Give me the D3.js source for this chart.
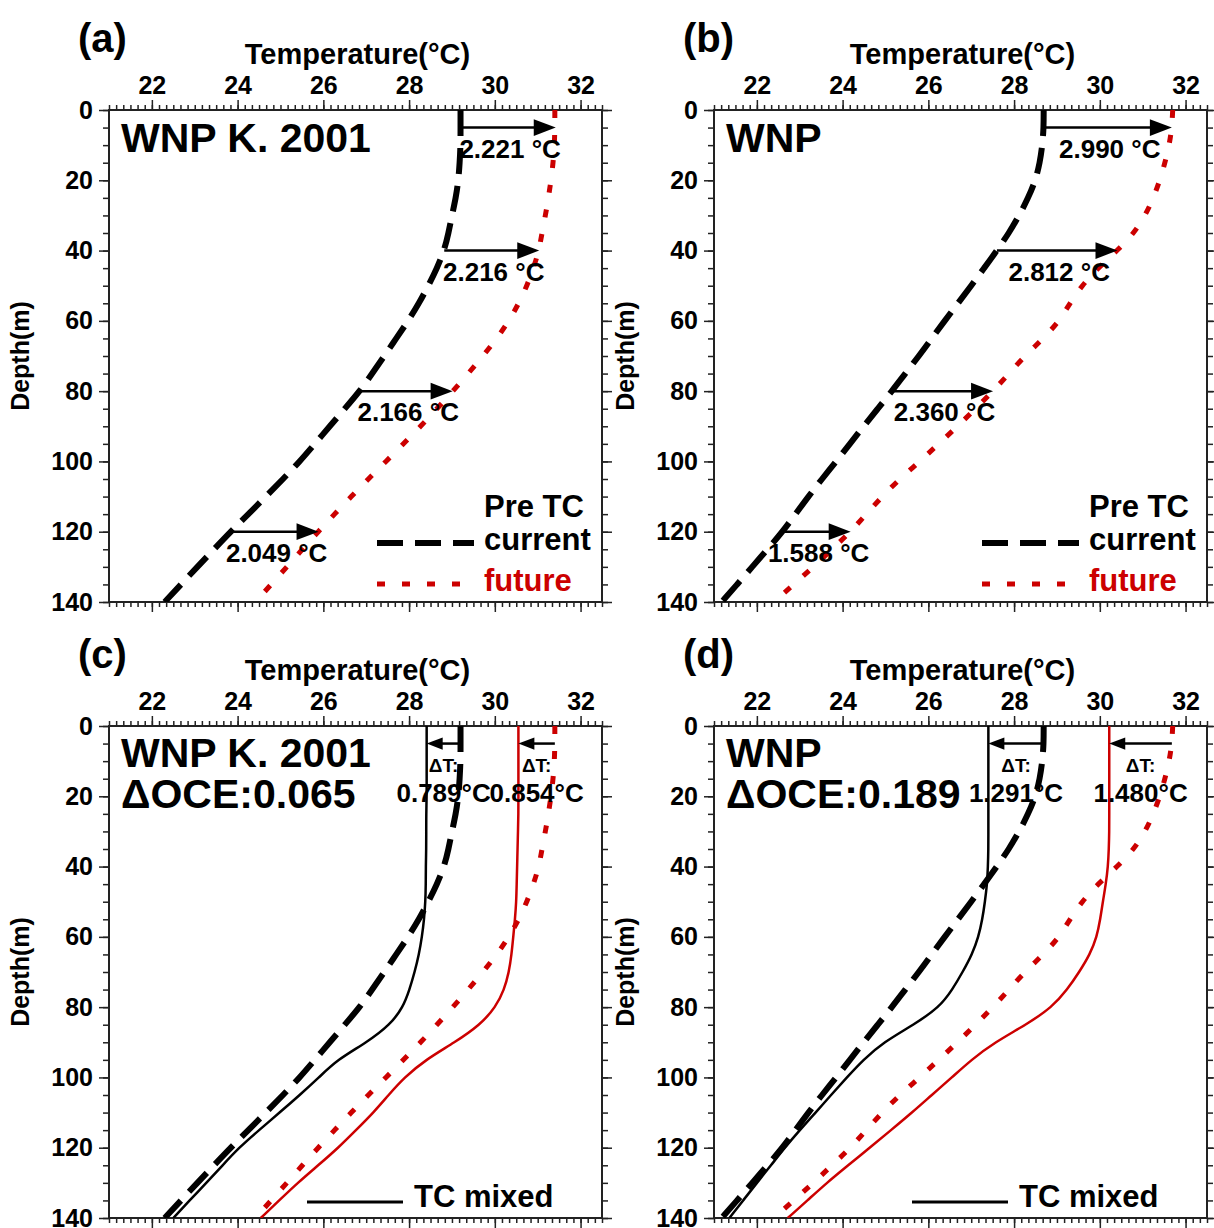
<!DOCTYPE html>
<html><head><meta charset="utf-8">
<script src="https://cdn.jsdelivr.net/npm/d3@7/dist/d3.min.js"></script>
<style>body{margin:0;background:#fff}text{font-family:"Liberation Sans",Arial,Helvetica,sans-serif;font-weight:bold}</style>
</head><body>
<svg id="chart" width="1214" height="1228"></svg>
<script>
// ---- data (depth in m, temperature in °C) ----
const depths = [0,5,10,15,20,25,30,35,40,45,50,55,60,65,70,75,80,85,90,95,100,105,110,115,120,125,130,135,140];

const wnpK_current = [29.20,29.20,29.20,29.18,29.15,29.09,29.00,28.92,28.82,28.65,28.45,28.23,27.98,27.70,27.42,27.14,26.85,26.50,26.15,25.80,25.45,25.06,24.66,24.25,23.84,23.45,23.06,22.68,22.30];
const wnpK_future  = [31.40,31.40,31.39,31.36,31.31,31.25,31.18,31.10,31.03,30.90,30.75,30.56,30.33,30.05,29.72,29.38,29.02,28.65,28.27,27.87,27.46,27.05,26.65,26.26,25.88,25.51,25.15,24.78,24.42];
const wnpK_mixedCurrent = [28.41,28.41,28.41,28.41,28.41,28.40,28.40,28.40,28.39,28.39,28.38,28.35,28.30,28.23,28.13,28.01,27.86,27.56,27.02,26.32,25.90,25.45,24.98,24.50,24.03,23.65,23.27,22.88,22.50];
const wnpK_mixedFuture  = [30.55,30.55,30.55,30.55,30.55,30.55,30.54,30.53,30.52,30.51,30.50,30.47,30.43,30.39,30.33,30.22,30.02,29.66,29.07,28.38,27.89,27.52,27.17,26.76,26.35,25.88,25.40,24.97,24.54];

const wnp_current = [28.69,28.69,28.66,28.60,28.50,28.33,28.12,27.88,27.60,27.30,27.00,26.69,26.38,26.08,25.78,25.46,25.15,24.82,24.49,24.17,23.85,23.52,23.20,22.90,22.60,22.25,21.89,21.54,21.18];
const wnp_future  = [31.70,31.68,31.62,31.52,31.40,31.25,31.06,30.80,30.41,29.95,29.58,29.30,29.06,28.68,28.25,27.88,27.51,27.10,26.68,26.24,25.80,25.33,24.92,24.55,24.19,23.75,23.32,22.86,22.40];
const wnp_mixedCurrent = [27.40,27.40,27.40,27.40,27.40,27.40,27.40,27.40,27.39,27.37,27.32,27.26,27.17,27.02,26.80,26.56,26.26,25.66,24.95,24.48,24.10,23.73,23.37,23.00,22.65,22.33,22.00,21.68,21.36];
const wnp_mixedFuture  = [30.22,30.22,30.22,30.22,30.22,30.22,30.22,30.21,30.19,30.14,30.07,30.01,29.93,29.77,29.52,29.24,28.89,28.28,27.55,27.00,26.55,26.08,25.62,25.13,24.63,24.13,23.63,23.18,22.72];

const arrowDepths = [5,40,80,120];
const wnpK_warming = [2.221,2.216,2.166,2.049];
const wnp_warming  = [2.990,2.812,2.360,1.588];

const coolingDepth = 5;
const wnpK_cooling = [0.789,0.854];   // current, future
const wnp_cooling  = [1.291,1.480];

const wnpK_dOCE = "0.065";
const wnp_dOCE  = "0.189";

const tempTicks  = [22,24,26,28,30,32];
const depthTicks = [0,20,40,60,80,100,120,140];
const tempDomain = [21,32.5];
const depthDomain = [0,140];

// ---- layout ----
const svg = d3.select("#chart");
const W = 493, H = 492;
const RED = "#cc0000";
const panels = [
  {tag:"(a)", left:109, top:110, kind:"pre",   name:"WNP K. 2001", cur:wnpK_current, fut:wnpK_future, warm:wnpK_warming},
  {tag:"(b)", left:714, top:110, kind:"pre",   name:"WNP",         cur:wnp_current,  fut:wnp_future,  warm:wnp_warming},
  {tag:"(c)", left:109, top:726, kind:"mixed", name:"WNP K. 2001", cur:wnpK_current, fut:wnpK_future, mc:wnpK_mixedCurrent, mf:wnpK_mixedFuture, cool:wnpK_cooling, oce:wnpK_dOCE},
  {tag:"(d)", left:714, top:726, kind:"mixed", name:"WNP",         cur:wnp_current,  fut:wnp_future,  mc:wnp_mixedCurrent,  mf:wnp_mixedFuture,  cool:wnp_cooling,  oce:wnp_dOCE}
];

function interp(arr, d){
  const i = d3.bisectRight(depths, d) - 1;
  if (i >= depths.length-1) return arr[arr.length-1];
  const t = (d - depths[i])/(depths[i+1]-depths[i]);
  return arr[i] + t*(arr[i+1]-arr[i]);
}

panels.forEach((p, pi) => {
  const g = svg.append("g").attr("transform", `translate(${p.left},${p.top})`);
  const x = d3.scaleLinear().domain(tempDomain).range([0, W]);
  const y = d3.scaleLinear().domain(depthDomain).range([0, H]);

  const clipId = "clip"+pi;
  g.append("clipPath").attr("id", clipId).append("rect").attr("width", W).attr("height", H);

  // minor ticks
  const minorX = d3.range(21, 32.51, 1/6);
  const minorY = d3.range(0, 141, 5);
  const axStyle = sel => { sel.select(".domain").remove(); sel.selectAll("line").attr("stroke","#222").attr("stroke-width",1.5); };
  g.append("g").call(d3.axisTop(x).tickValues(minorX).tickSize(5).tickFormat("")).call(axStyle);
  g.append("g").attr("transform",`translate(0,${H})`).call(d3.axisBottom(x).tickValues(minorX).tickSize(5).tickFormat("")).call(axStyle);
  g.append("g").call(d3.axisLeft(y).tickValues(minorY).tickSize(6).tickFormat("")).call(axStyle);
  g.append("g").attr("transform",`translate(${W},0)`).call(d3.axisRight(y).tickValues(minorY).tickSize(6).tickFormat("")).call(axStyle);

  // major ticks
  const top = g.append("g").call(d3.axisTop(x).tickValues(tempTicks).tickSize(10).tickPadding(6).tickFormat(d3.format("d"))).call(axStyle);
  top.selectAll("text").attr("font-size", 25).attr("fill","#000");
  g.append("g").attr("transform",`translate(0,${H})`).call(d3.axisBottom(x).tickValues(tempTicks).tickSize(10).tickFormat("")).call(axStyle);
  const left = g.append("g").call(d3.axisLeft(y).tickValues(depthTicks).tickSize(10).tickPadding(6).tickFormat(d3.format("d"))).call(axStyle);
  left.selectAll("text").attr("font-size", 25).attr("fill","#000");
  g.append("g").attr("transform",`translate(${W},0)`).call(d3.axisRight(y).tickValues(depthTicks).tickSize(10).tickFormat("")).call(axStyle);

  // frame
  g.append("rect").attr("width", W).attr("height", H).attr("fill","none").attr("stroke","#222").attr("stroke-width",2);

  // titles
  g.append("text").attr("x", -31).attr("y", -58).attr("font-size", 40).text(p.tag);
  g.append("text").attr("x", W/2 + 2).attr("y", -46).attr("text-anchor","middle").attr("font-size", 29).text("Temperature(°C)");
  g.append("text").attr("transform", `translate(${-80},${H/2}) rotate(-90)`).attr("text-anchor","middle").attr("font-size", 25).text("Depth(m)");

  const line = d3.line().x(d => x(d[0])).y(d => y(d[1])).curve(d3.curveBasis);
  const plot = g.append("g").attr("clip-path", `url(#${clipId})`);
  const pts = arr => arr.map((v,i) => [v, depths[i]]);

  if (p.kind === "mixed") {
    plot.append("path").attr("d", line(pts(p.mc))).attr("fill","none").attr("stroke","#000").attr("stroke-width",2.5);
    plot.append("path").attr("d", line(pts(p.mf))).attr("fill","none").attr("stroke",RED).attr("stroke-width",2.5);
  }
  plot.append("path").attr("d", line(pts(p.cur))).attr("fill","none").attr("stroke","#000").attr("stroke-width",6).attr("stroke-dasharray","26,12");
  plot.append("path").attr("d", line(pts(p.fut))).attr("fill","none").attr("stroke",RED).attr("stroke-width",5).attr("stroke-dasharray","8,17");

  function arrow(x0, x1, yy, head){
    const dir = x1 > x0 ? 1 : -1;
    g.append("line").attr("x1", x0).attr("x2", x1 - dir*head*0.8).attr("y1", yy).attr("y2", yy).attr("stroke","#000").attr("stroke-width",2.5);
    g.append("path").attr("d", `M${x1},${yy}L${x1-dir*head},${yy-head*0.38}L${x1-dir*head},${yy+head*0.38}Z`).attr("fill","#000");
  }

  if (p.kind === "pre") {
    arrowDepths.forEach((d, i) => {
      const c = interp(p.cur, d);
      const x0 = x(c), x1 = x(c + p.warm[i]), yy = y(d);
      arrow(x0, x1, yy, 22);
      g.append("text").attr("x", (x0+x1)/2 + 2).attr("y", yy + 30).attr("text-anchor","middle").attr("font-size", 26)
        .text(`${p.warm[i].toFixed(3)} °C`);
    });
    g.append("text").attr("x", 375).attr("y", 407).attr("font-size", 31).text("Pre TC");
    g.append("text").attr("x", 375).attr("y", 440).attr("font-size", 31).text("current");
    g.append("text").attr("x", 375).attr("y", 481).attr("font-size", 31).attr("fill", RED).text("future");
    g.append("line").attr("x1", 268).attr("x2", 365).attr("y1", 433).attr("y2", 433).attr("stroke","#000").attr("stroke-width",6).attr("stroke-dasharray","26,12");
    g.append("line").attr("x1", 268).attr("x2", 365).attr("y1", 474).attr("y2", 474).attr("stroke",RED).attr("stroke-width",5).attr("stroke-dasharray","8,17");
    g.append("text").attr("x", 12).attr("y", 42).attr("font-size", 41).text(p.name);
  } else {
    const pairs = [[p.cur, p.mc, p.cool[0]], [p.fut, p.mf, p.cool[1]]];
    pairs.forEach(([pre, mix, dT]) => {
      const x0 = x(interp(pre, coolingDepth)), x1 = x(interp(mix, coolingDepth)), yy = y(coolingDepth);
      arrow(x0, x1, yy, 16);
      const cx = (x0+x1)/2;
      g.append("text").attr("x", cx).attr("y", yy + 28).attr("text-anchor","middle").attr("font-size", 19).attr("font-weight","normal").text("ΔT:");
      g.append("text").attr("x", cx).attr("y", yy + 58).attr("text-anchor","middle").attr("font-size", 26).text(`${dT.toFixed(3)}°C`);
    });
    g.append("text").attr("x", 12).attr("y", 41).attr("font-size", 41).text(p.name);
    g.append("text").attr("x", 12).attr("y", 82).attr("font-size", 41).text(`ΔOCE:${p.oce}`);
    g.append("line").attr("x1", 198).attr("x2", 294).attr("y1", 476).attr("y2", 476).attr("stroke","#000").attr("stroke-width",3);
    g.append("text").attr("x", 305).attr("y", 481).attr("font-size", 31).text("TC mixed");
  }
});
</script>
</body></html>
